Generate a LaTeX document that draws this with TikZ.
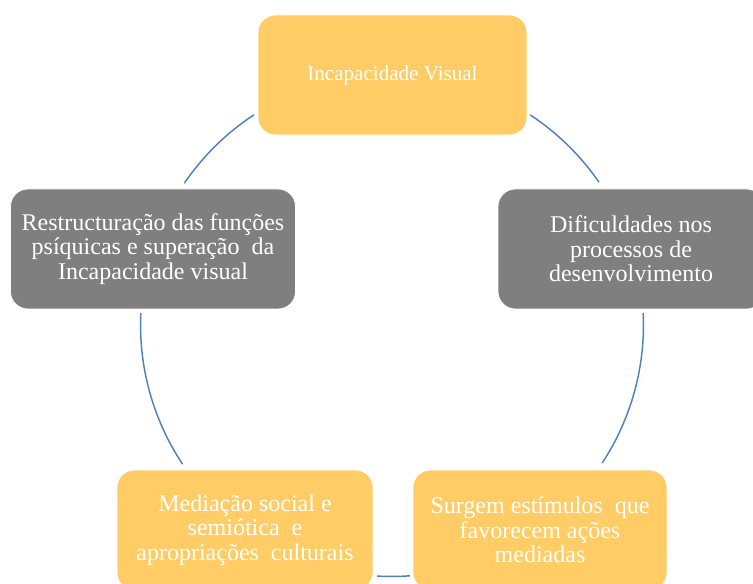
\documentclass[tikz,border=0pt]{standalone}
\usepackage{fontspec}
\setmainfont{Liberation Serif}
\definecolor{boxyellow}{HTML}{FFCC66}
\definecolor{boxgray}{HTML}{7F7F7F}
\definecolor{cyclink}{HTML}{4F81BD}
\begin{document}
\begin{tikzpicture}[x=0.75pt,y=0.75pt,
  stage/.style={rounded corners=13pt, draw=white, line width=0.6pt, text=white,
    align=center, inner sep=0pt, font=\fontsize{18}{18.5}\selectfont},
  warm/.style={stage, fill=boxyellow},
  dark/.style={stage, fill=boxgray},
  linkarc/.style={draw=cyclink, line width=1.1pt}]
\useasboundingbox (0,0) rectangle (753,584);
\clip (0,0) rectangle (753,584);

% stages of the cycle
\node[warm, minimum width=269*0.75pt, minimum height=120*0.75pt,
  font=\fontsize{15.8}{18.5}\selectfont] (vis) at (392.5,509)
  {Incapacidade Visual};
\node[dark, minimum width=266*0.75pt, minimum height=120*0.75pt] (dif) at (631,335)
  {Dificuldades nos\\processos de\\desenvolvimento};
\node[dark, minimum width=285*0.75pt, minimum height=120*0.75pt] (res) at (153,335)
  {Restructuração das funções\\psíquicas e superação\ \ da\\Incapacidade visual};
\node[warm, minimum width=256*0.75pt, minimum height=120*0.75pt] (med) at (245,54)
  {Mediação social e\\semiótica\ \ e\\apropriações\ \ culturais};
\node[warm, minimum width=254*0.75pt, minimum height=120*0.75pt] (sur) at (540,54)
  {Surgem estímulos\ \ que\\favorecem ações\\mediadas};

% circular connectors between the stages
\coordinate (C) at (392,259);
\draw[linkarc] ([shift={(56.7:188.6pt)}]C) arc[start angle=56.7, end angle=34.6, radius=188.6pt];
\draw[linkarc] ([shift={(2.7:188.6pt)}]C) arc[start angle=2.7, end angle=-33.3, radius=188.6pt];
\draw[linkarc] ([shift={(274.1:188.6pt)}]C) arc[start angle=274.1, end angle=266.6, radius=188.6pt];
\draw[linkarc] ([shift={(213.6:188.6pt)}]C) arc[start angle=213.6, end angle=177.3, radius=188.6pt];
\draw[linkarc] ([shift={(145.7:188.6pt)}]C) arc[start angle=145.7, end angle=123.3, radius=188.6pt];
\end{tikzpicture}
\end{document}
